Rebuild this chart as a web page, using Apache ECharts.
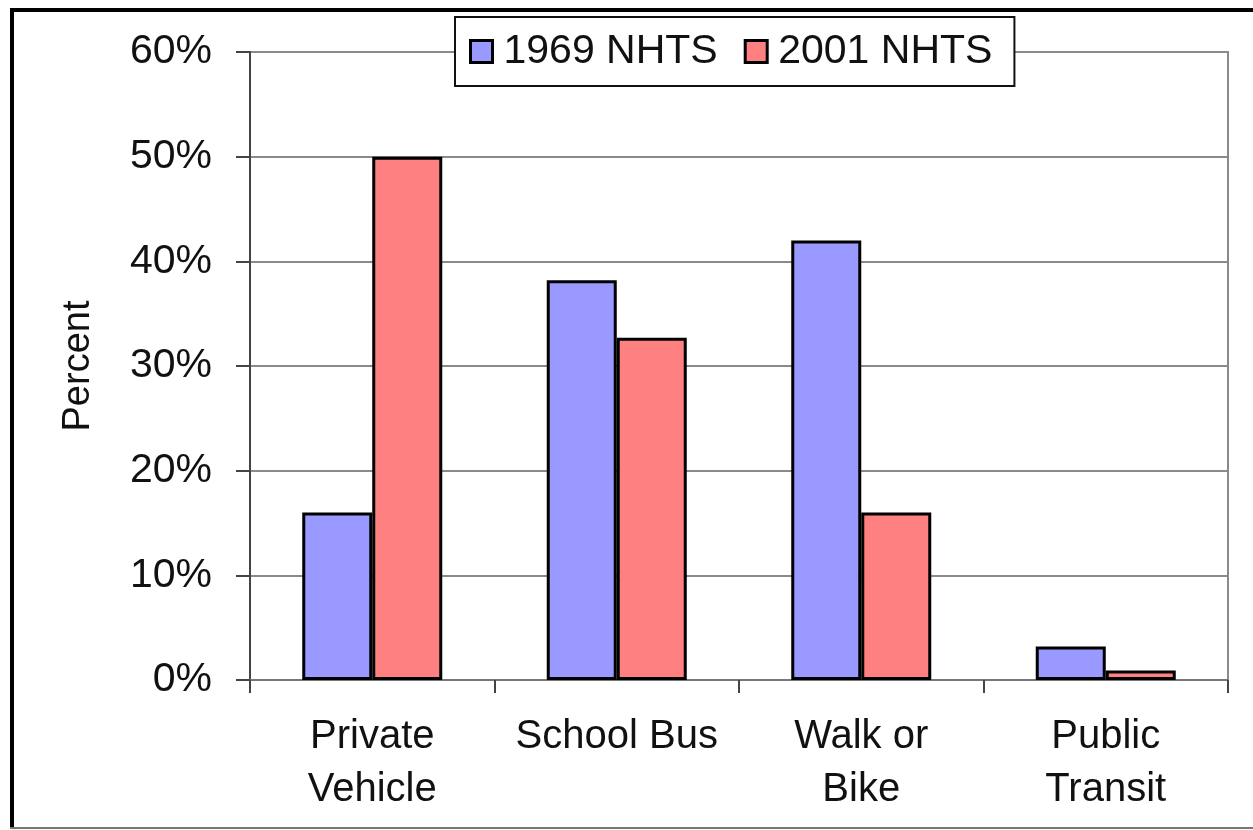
<!DOCTYPE html>
<html>
<head>
<meta charset="utf-8">
<script src="https://cdn.jsdelivr.net/npm/echarts@6/dist/echarts.min.js"></script>
<style>
  html, body { margin: 0; padding: 0; background: #fff; }
  #chart { width: 1253px; height: 830px; }
</style>
</head>
<body>
<div id="chart"></div>
<script>
// travel mode to school, share of trips
const categories = ['Private\nVehicle', 'School Bus', 'Walk or\nBike', 'Public\nTransit'];
const nhts1969 = [16, 38.2, 42, 3.2];
const nhts2001 = [50, 32.7, 16, 0.9];
const yTicks = [0, 10, 20, 30, 40, 50, 60];

const font = '"Liberation Sans", Arial, sans-serif';
const chart = echarts.init(document.getElementById('chart'));

chart.setOption({
    animation: false,
    backgroundColor: '#fff',
    textStyle: { fontFamily: font },
    legend: {
        left: 455,
        top: 17,
        padding: [14, 22, 14, 14],
        itemGap: 26,
        itemWidth: 22,
        itemHeight: 22,
        icon: 'rect',
        backgroundColor: '#fff',
        borderColor: '#111',
        borderWidth: 2,
        itemStyle: { borderColor: '#000', borderWidth: 3 },
        textStyle: { fontSize: 41, color: '#111', fontFamily: font, padding: [0, 0, 0, 6] },
        data: ['1969 NHTS', '2001 NHTS']
    },
    grid: {
        left: 250,
        right: 25,
        top: 52,
        bottom: 150,
        show: true,
        borderColor: '#8a8a8a',
        borderWidth: 2
    },
    xAxis: {
        type: 'category',
        data: categories,
        axisLine: { lineStyle: { color: '#777', width: 2 } },
        axisTick: { show: true, interval: 0, length: 13, lineStyle: { color: '#444', width: 2 } },
        axisLabel: {
            interval: 0,
            fontSize: 40,
            color: '#111',
            margin: 30,
            lineHeight: 53,
            fontFamily: font
        }
    },
    yAxis: {
        type: 'value',
        min: yTicks[0],
        max: yTicks[yTicks.length - 1],
        interval: 10,
        name: 'Percent',
        nameLocation: 'middle',
        nameGap: 152,
        nameRotate: 90,
        nameTextStyle: { fontSize: 38, color: '#111', fontFamily: font },
        axisLine: { show: true, lineStyle: { color: '#444', width: 2 } },
        axisTick: { show: true, length: 14, lineStyle: { color: '#444', width: 2 } },
        axisLabel: {
            formatter: '{value}%',
            fontSize: 41,
            color: '#111',
            margin: 38,
            fontFamily: font
        },
        splitLine: { lineStyle: { color: '#8a8a8a', width: 2 } }
    },
    series: [
        {
            name: '1969 NHTS',
            type: 'bar',
            barWidth: 70,
            barGap: '0%',
            data: nhts1969,
            itemStyle: { color: '#9999ff', borderColor: '#000', borderWidth: 3 }
        },
        {
            name: '2001 NHTS',
            type: 'bar',
            barWidth: 70,
            barGap: '0%',
            data: nhts2001,
            itemStyle: { color: '#ff8080', borderColor: '#000', borderWidth: 3 }
        }
    ],
    graphic: [
        { type: 'line', shape: { x1: 12, y1: 10, x2: 12, y2: 828 }, style: { stroke: '#000', lineWidth: 4 } },
        { type: 'line', shape: { x1: 10, y1: 10, x2: 1253, y2: 10 }, style: { stroke: '#000', lineWidth: 4 } },
        { type: 'line', shape: { x1: 10, y1: 828, x2: 1253, y2: 828 }, style: { stroke: '#777', lineWidth: 2 } }
    ]
});
</script>
</body>
</html>
